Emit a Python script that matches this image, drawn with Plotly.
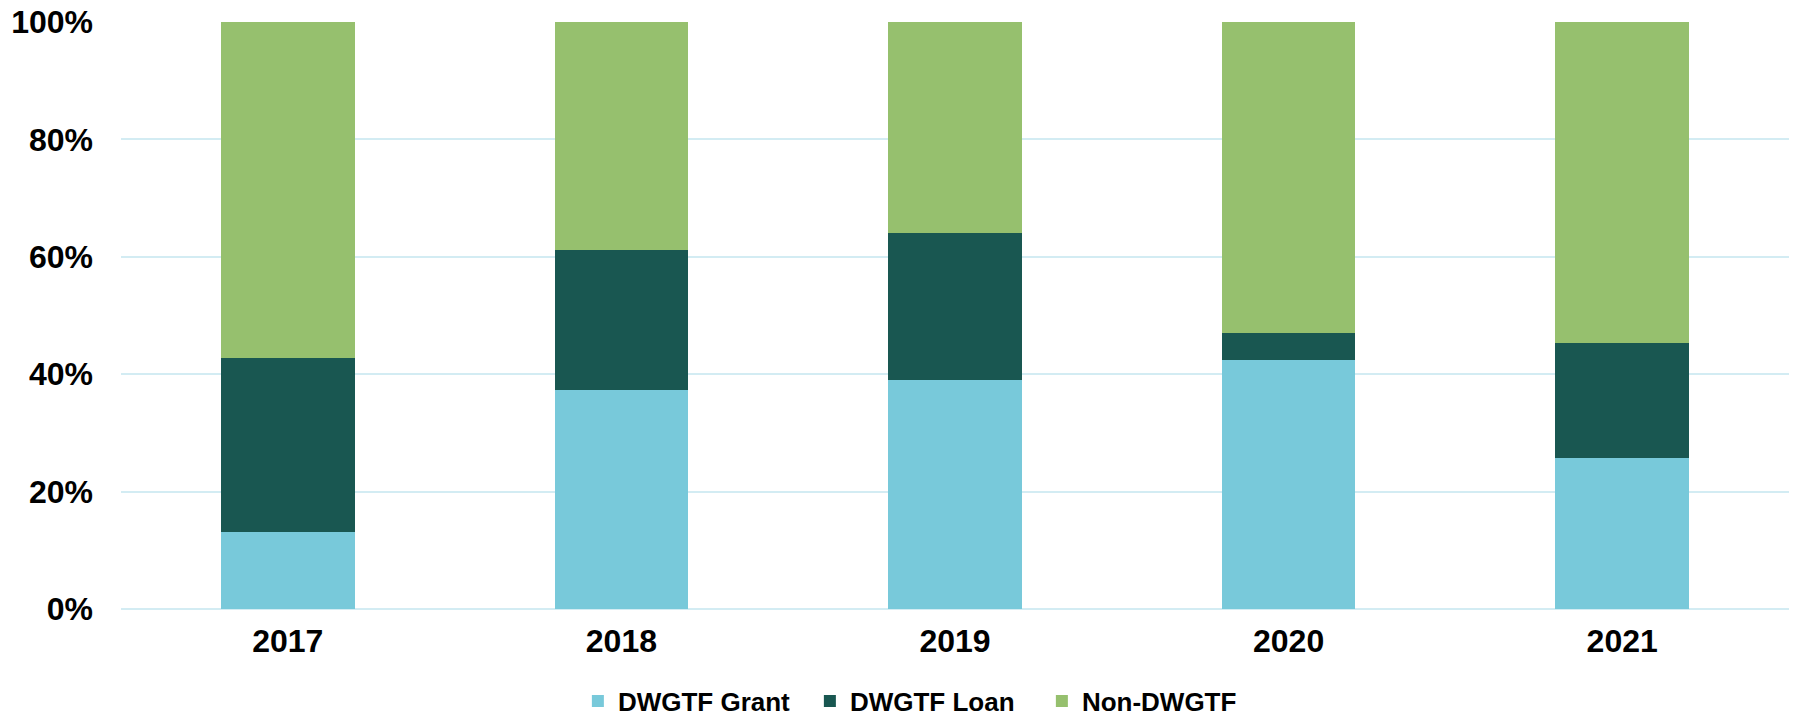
import plotly.graph_objects as go

years = ["2017", "2018", "2019", "2020", "2021"]
grant = [0.131, 0.373, 0.390, 0.425, 0.257]
loan = [0.296, 0.238, 0.250, 0.045, 0.197]
non = [1 - g - l for g, l in zip(grant, loan)]

series = [
    ("DWGTF Grant", grant, "#78C9DA"),
    ("DWGTF Loan", loan, "#195751"),
    ("Non-DWGTF", non, "#96C06E"),
]

fig = go.Figure()
for name, vals, color in series:
    fig.add_trace(go.Bar(
        x=years, y=vals, name=name,
        marker=dict(color=color, line=dict(width=0)),
    ))

fig.update_layout(
    barmode="stack",
    bargap=0.6,
    width=1798, height=717,
    margin=dict(l=121, r=9, t=22, b=108, autoexpand=False),
    plot_bgcolor="white", paper_bgcolor="white",
    font=dict(family="Liberation Sans, Arial, sans-serif", color="black"),
    legend=dict(
        orientation="h", xref="container", yref="paper",
        x=0.3214, xanchor="left", y=-0.1567, yanchor="middle",
        font=dict(family="Liberation Sans, Arial", size=26, color="black", weight="bold"),
        traceorder="normal", itemwidth=30,
        entrywidth=187, entrywidthmode="pixels",
    ),
    xaxis=dict(
        type="category", automargin=False,
        tickfont=dict(size=32, weight="bold"),
        showgrid=False, showline=False, ticks="",
        ticklabelstandoff=10,
    ),
    yaxis=dict(
        range=[0, 1], dtick=0.2, tickformat=".0%", automargin=False,
        tickfont=dict(size=32, weight="bold"),
        showgrid=True, gridcolor="#D3ECF3", gridwidth=2,
        zeroline=True, zerolinecolor="#D3ECF3", zerolinewidth=2,
        showline=False, ticks="",
        ticklabelstandoff=27, ticklabeloverflow="allow",
    ),
)

fig.write_html(
    "out.html",
    config={"displayModeBar": False},
    post_script="document.body.style.margin='0';document.body.style.overflow='hidden';",
)
